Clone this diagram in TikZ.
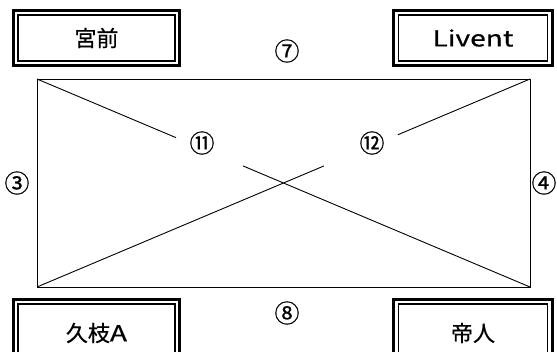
\documentclass[tikz,border=0pt]{standalone}
\usepackage{fontspec}
\setmainfont{Noto Sans CJK JP}[FakeBold=0.6]
\newfontfamily\widelatin{Noto Sans CJK JP}[FakeStretch=1.28,FakeBold=0.6]
\usetikzlibrary{calc}
\tikzset{
  namebox/.style={draw, line width=1.5pt, minimum width=#1, font=\fontsize{22}{22}\selectfont, inner sep=0pt},
  outerframe/.style={line width=3pt},
  mark label/.style={font=\fontsize{25}{25}\selectfont, inner sep=0pt},
  plan/.style={line width=0.9pt},
}
\begin{document}
\begin{tikzpicture}[x=1pt,y=-1pt]
\useasboundingbox (0,0) rectangle (557,351);
\clip (0,0) rectangle (557,351);
% name boxes
\node[namebox=157pt, minimum height=46pt] (miyamae) at (96.5,38) {宮前};
\node[namebox=149pt, minimum height=46pt] (livent) at (473,38) {\widelatin Livent};
\node[namebox=157pt, minimum height=58pt] (hisae) at (96.5,333) {久枝{\widelatin A}};
\node[namebox=149pt, minimum height=58pt] (teijin) at (473,333) {帝人};
\foreach \n in {miyamae,livent,hisae,teijin}{
  \draw[outerframe] ($(\n.north west)+(-4,-4)$) rectangle ($(\n.south east)+(4,4)$);
}
% plan rectangle
\coordinate (tl) at (37,79);
\coordinate (tr) at (530,79);
\coordinate (br) at (530,287);
\coordinate (bl) at (37,287);
\draw[plan] (tl) -- (tr) -- (br) -- (bl) -- cycle;
\draw[plan] (tl) -- ($(tl)!0.282!(br)$);
\draw[plan] ($(tl)!0.418!(br)$) -- (br);
\draw[plan] (bl) -- ($(bl)!0.582!(tr)$);
\draw[plan] ($(bl)!0.732!(tr)$) -- (tr);
% labels
\node[mark label] (m7) at (287,51) {⑦};
\node[mark label] (m8) at (287,313) {⑧};
\node[mark label] (m3) at (17,183) {③};
\node[mark label] (m4) at (544,183) {④};
\node[mark label] (m11) at (202,143) {⑪};
\node[mark label] (m12) at (372,143) {⑫};
\end{tikzpicture}
\end{document}
